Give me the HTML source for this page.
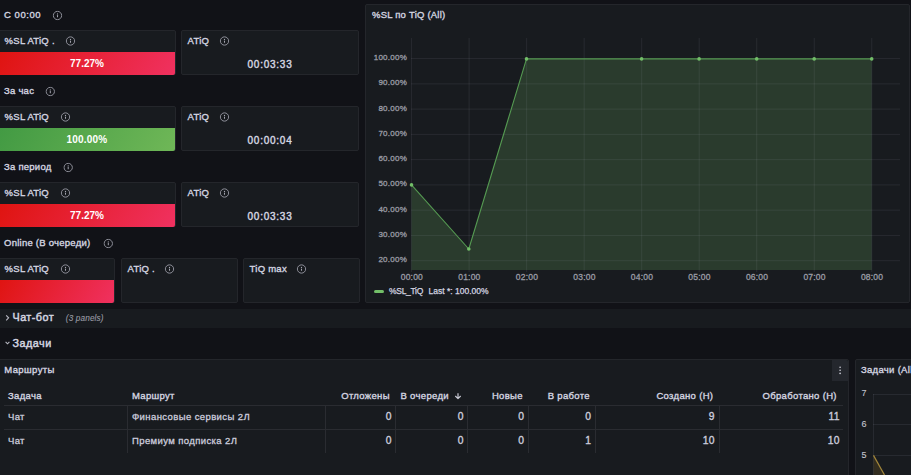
<!DOCTYPE html>
<html><head><meta charset="utf-8">
<style>
*{margin:0;padding:0;box-sizing:border-box}
html,body{width:911px;height:475px;overflow:hidden;background:#111217;font-family:"Liberation Sans", sans-serif;color:#d4d5e0}
.a{position:absolute}
.p{position:absolute;background:#181b1f;border:1px solid #24262b;border-radius:2px}
.tx{position:absolute;white-space:nowrap}
</style></head><body>
<div class="p" style="left:-2px;top:30px;width:178px;height:45px"></div>
<div class="a" style="left:-2px;top:52px;width:177px;height:23px;background:linear-gradient(120deg,#df1410,#f03160);border-radius:0 0 2px 2px"></div>
<div class="p" style="left:181px;top:30px;width:178px;height:45px"></div>
<div class="p" style="left:-2px;top:106px;width:178px;height:45px"></div>
<div class="a" style="left:-2px;top:128px;width:177px;height:23px;background:linear-gradient(120deg,#429a43,#6fb757);border-radius:0 0 2px 2px"></div>
<div class="p" style="left:181px;top:106px;width:178px;height:45px"></div>
<div class="p" style="left:-2px;top:182px;width:178px;height:45px"></div>
<div class="a" style="left:-2px;top:204px;width:177px;height:23px;background:linear-gradient(120deg,#df1410,#f03160);border-radius:0 0 2px 2px"></div>
<div class="p" style="left:181px;top:182px;width:178px;height:45px"></div>
<div class="p" style="left:-2px;top:258px;width:117px;height:45px"></div>
<div class="a" style="left:-2px;top:280px;width:116px;height:23px;background:linear-gradient(120deg,#df1410,#f03160);border-radius:0 0 2px 2px"></div>
<div class="p" style="left:121px;top:258px;width:117px;height:45px"></div>
<div class="p" style="left:243px;top:258px;width:117px;height:45px"></div>
<div class="p" style="left:365px;top:4px;width:545px;height:299px"></div>
<div class="a" style="left:-2px;top:309px;width:913px;height:19px;background:#181b1f;"></div>
<div class="p" style="left:-2px;top:359px;width:851px;height:130px"></div>
<div class="a" style="left:832px;top:360px;width:16px;height:21px;background:#24272d;border-radius:0 2px 0 0"></div>
<div class="a" style="left:4px;top:405px;width:839px;height:1px;background:#2a2c31;"></div>
<div class="a" style="left:4px;top:429px;width:839px;height:1px;background:#2a2c31;"></div>
<div class="a" style="left:127px;top:406px;width:1px;height:47px;background:#2a2c31;"></div>
<div class="a" style="left:325px;top:406px;width:1px;height:47px;background:#2a2c31;"></div>
<div class="a" style="left:395px;top:406px;width:1px;height:47px;background:#2a2c31;"></div>
<div class="a" style="left:467px;top:406px;width:1px;height:47px;background:#2a2c31;"></div>
<div class="a" style="left:528px;top:406px;width:1px;height:47px;background:#2a2c31;"></div>
<div class="a" style="left:595px;top:406px;width:1px;height:47px;background:#2a2c31;"></div>
<div class="a" style="left:719px;top:406px;width:1px;height:47px;background:#2a2c31;"></div>
<div class="p" style="left:855px;top:359px;width:70px;height:130px"></div>
<svg class="a" style="left:0;top:0" width="911" height="475">
<defs><symbol id="info" viewBox="0 0 10 10"><circle cx="5" cy="5" r="4.15" fill="none" stroke="#94959f" stroke-width="0.95"/><circle cx="5" cy="3.4" r="0.62" fill="#a4a5af"/><rect x="4.5" y="4.6" width="1" height="2.2" rx="0.3" fill="#a4a5af"/></symbol></defs>
<path d="M411.5,270 L411.5,184.9 468.8,249.0 526.5,58.9 871.7,58.9 L871.7,270 Z" fill="rgba(115,191,105,0.2)"/>
<g stroke="rgba(204,204,220,0.09)" stroke-width="1"><line x1="411.6" y1="38" x2="411.6" y2="272"/><line x1="469.12" y1="38" x2="469.12" y2="272"/><line x1="526.64" y1="38" x2="526.64" y2="272"/><line x1="584.16" y1="38" x2="584.16" y2="272"/><line x1="641.68" y1="38" x2="641.68" y2="272"/><line x1="699.2" y1="38" x2="699.2" y2="272"/><line x1="756.72" y1="38" x2="756.72" y2="272"/><line x1="814.24" y1="38" x2="814.24" y2="272"/><line x1="871.76" y1="38" x2="871.76" y2="272"/><line x1="411" y1="58.6" x2="900" y2="58.6"/><line x1="411" y1="83.86" x2="900" y2="83.86"/><line x1="411" y1="109.12" x2="900" y2="109.12"/><line x1="411" y1="134.38" x2="900" y2="134.38"/><line x1="411" y1="159.64" x2="900" y2="159.64"/><line x1="411" y1="184.9" x2="900" y2="184.9"/><line x1="411" y1="210.16" x2="900" y2="210.16"/><line x1="411" y1="235.42" x2="900" y2="235.42"/><line x1="411" y1="260.68" x2="900" y2="260.68"/></g>
<polyline points="411.5,184.9 468.8,249.0 526.5,58.9 871.7,58.9" fill="none" stroke="#559a52" stroke-width="1.1" stroke-linejoin="round"/>
<g fill="#73bf69"><circle cx="411.5" cy="184.9" r="1.8"/><circle cx="468.8" cy="249.0" r="1.8"/><circle cx="526.5" cy="58.9" r="1.8"/><circle cx="641.6" cy="58.9" r="1.8"/><circle cx="699.1" cy="58.9" r="1.8"/><circle cx="756.7" cy="58.9" r="1.8"/><circle cx="814.2" cy="58.9" r="1.8"/><circle cx="871.7" cy="58.9" r="1.8"/></g>
<line x1="375.5" y1="291.5" x2="382.5" y2="291.5" stroke="#73bf69" stroke-width="3" stroke-linecap="round"/>
<g stroke="rgba(204,204,220,0.09)" stroke-width="1">
<line x1="873.5" y1="394" x2="873.5" y2="475"/>
<line x1="873" y1="394.5" x2="911" y2="394.5"/>
<line x1="873" y1="424.5" x2="911" y2="424.5"/>
<line x1="873" y1="455.5" x2="911" y2="455.5"/>
</g>
<path d="M873.5,455.4 L884.5,475 L873.5,475 Z" fill="rgba(230,170,40,0.13)"/>
<line x1="873.5" y1="455.4" x2="884.5" y2="475" stroke="#a3873a" stroke-width="1.2"/>
</svg>
<div class="tx" style="top:10px;font-size:9.5px;line-height:9.5px;color:#d4d5e0;letter-spacing:0.55px;-webkit-text-stroke:0.35px #d4d5e0;left:4px;">С 00:00</div>
<svg class="a" style="left:52px;top:10px" width="11" height="11"><use href="#info" x="0.5" y="0.5" width="10" height="10"/></svg>
<div class="tx" style="top:86px;font-size:9.5px;line-height:9.5px;color:#d4d5e0;letter-spacing:0.25px;-webkit-text-stroke:0.35px #d4d5e0;left:4px;">За час</div>
<svg class="a" style="left:45px;top:86px" width="11" height="11"><use href="#info" x="0.3" y="0.5" width="10" height="10"/></svg>
<div class="tx" style="top:162px;font-size:9.5px;line-height:9.5px;color:#d4d5e0;letter-spacing:0.25px;-webkit-text-stroke:0.35px #d4d5e0;left:4px;">За период</div>
<svg class="a" style="left:63px;top:162px" width="11" height="11"><use href="#info" x="0.2" y="0.5" width="10" height="10"/></svg>
<div class="tx" style="top:238px;font-size:9.5px;line-height:9.5px;color:#d4d5e0;letter-spacing:0.25px;-webkit-text-stroke:0.35px #d4d5e0;left:4px;">Online (В очереди)</div>
<svg class="a" style="left:103px;top:238px" width="11" height="11"><use href="#info" x="0.3" y="0.5" width="10" height="10"/></svg>
<div class="tx" style="top:36px;font-size:9.5px;line-height:9.5px;color:#d4d5e0;letter-spacing:0.25px;-webkit-text-stroke:0.35px #d4d5e0;left:4.6px;">%SL ATiQ .</div>
<svg class="a" style="left:65px;top:36px" width="11" height="11"><use href="#info" x="0.5" y="0" width="10" height="10"/></svg>
<div class="tx" style="top:59px;font-size:10px;line-height:10px;color:#fff;font-weight:bold;left:-63.0px;width:300px;text-align:center;">77.27%</div>
<div class="tx" style="top:36px;font-size:9.5px;line-height:9.5px;color:#d4d5e0;letter-spacing:0.25px;-webkit-text-stroke:0.35px #d4d5e0;left:187.6px;">ATiQ</div>
<svg class="a" style="left:219px;top:36px" width="11" height="11"><use href="#info" x="0.5" y="0" width="10" height="10"/></svg>
<div class="tx" style="top:60px;font-size:10px;line-height:10px;color:#d4d5e0;letter-spacing:0.75px;-webkit-text-stroke:0.4px #d4d5e0;left:120.0px;width:300px;text-align:center;">00:03:33</div>
<div class="tx" style="top:112px;font-size:9.5px;line-height:9.5px;color:#d4d5e0;letter-spacing:0.25px;-webkit-text-stroke:0.35px #d4d5e0;left:4.6px;">%SL ATiQ</div>
<svg class="a" style="left:60px;top:112px" width="11" height="11"><use href="#info" x="0.5" y="0" width="10" height="10"/></svg>
<div class="tx" style="top:135px;font-size:10px;line-height:10px;color:#fff;font-weight:bold;letter-spacing:0.2px;left:-63.0px;width:300px;text-align:center;">100.00%</div>
<div class="tx" style="top:112px;font-size:9.5px;line-height:9.5px;color:#d4d5e0;letter-spacing:0.25px;-webkit-text-stroke:0.35px #d4d5e0;left:187.6px;">ATiQ</div>
<svg class="a" style="left:219px;top:112px" width="11" height="11"><use href="#info" x="0.5" y="0" width="10" height="10"/></svg>
<div class="tx" style="top:136px;font-size:10px;line-height:10px;color:#d4d5e0;letter-spacing:0.75px;-webkit-text-stroke:0.4px #d4d5e0;left:120.0px;width:300px;text-align:center;">00:00:04</div>
<div class="tx" style="top:188px;font-size:9.5px;line-height:9.5px;color:#d4d5e0;letter-spacing:0.25px;-webkit-text-stroke:0.35px #d4d5e0;left:4.6px;">%SL ATiQ</div>
<svg class="a" style="left:60px;top:188px" width="11" height="11"><use href="#info" x="0.5" y="0" width="10" height="10"/></svg>
<div class="tx" style="top:211px;font-size:10px;line-height:10px;color:#fff;font-weight:bold;left:-63.0px;width:300px;text-align:center;">77.27%</div>
<div class="tx" style="top:188px;font-size:9.5px;line-height:9.5px;color:#d4d5e0;letter-spacing:0.25px;-webkit-text-stroke:0.35px #d4d5e0;left:187.6px;">ATiQ</div>
<svg class="a" style="left:219px;top:188px" width="11" height="11"><use href="#info" x="0.5" y="0" width="10" height="10"/></svg>
<div class="tx" style="top:212px;font-size:10px;line-height:10px;color:#d4d5e0;letter-spacing:0.75px;-webkit-text-stroke:0.4px #d4d5e0;left:120.0px;width:300px;text-align:center;">00:03:33</div>
<div class="tx" style="top:264px;font-size:9.5px;line-height:9.5px;color:#d4d5e0;letter-spacing:0.25px;-webkit-text-stroke:0.35px #d4d5e0;left:4.6px;">%SL ATiQ</div>
<svg class="a" style="left:60px;top:264px" width="11" height="11"><use href="#info" x="0.5" y="0" width="10" height="10"/></svg>
<div class="tx" style="top:264px;font-size:9.5px;line-height:9.5px;color:#d4d5e0;letter-spacing:0.25px;-webkit-text-stroke:0.35px #d4d5e0;left:127.6px;">ATiQ .</div>
<svg class="a" style="left:164px;top:264px" width="11" height="11"><use href="#info" x="0.5" y="0" width="10" height="10"/></svg>
<div class="tx" style="top:264px;font-size:9.5px;line-height:9.5px;color:#d4d5e0;letter-spacing:0.25px;-webkit-text-stroke:0.35px #d4d5e0;left:249.6px;">TiQ max</div>
<svg class="a" style="left:296px;top:264px" width="11" height="11"><use href="#info" x="0.5" y="0" width="10" height="10"/></svg>
<div class="tx" style="top:10px;font-size:9.5px;line-height:9.5px;color:#d4d5e0;letter-spacing:0.22px;-webkit-text-stroke:0.35px #d4d5e0;left:372px;">%SL по TiQ (All)</div>
<div class="tx" style="top:54px;font-size:8px;line-height:8px;color:#9a9ba5;letter-spacing:0.25px;-webkit-text-stroke:0.3px #9a9ba5;right:503.95px;text-align:right;">100.00%</div>
<div class="tx" style="top:79px;font-size:8px;line-height:8px;color:#9a9ba5;letter-spacing:0.25px;-webkit-text-stroke:0.3px #9a9ba5;right:503.95px;text-align:right;">90.00%</div>
<div class="tx" style="top:105px;font-size:8px;line-height:8px;color:#9a9ba5;letter-spacing:0.25px;-webkit-text-stroke:0.3px #9a9ba5;right:503.95px;text-align:right;">80.00%</div>
<div class="tx" style="top:130px;font-size:8px;line-height:8px;color:#9a9ba5;letter-spacing:0.25px;-webkit-text-stroke:0.3px #9a9ba5;right:503.95px;text-align:right;">70.00%</div>
<div class="tx" style="top:155px;font-size:8px;line-height:8px;color:#9a9ba5;letter-spacing:0.25px;-webkit-text-stroke:0.3px #9a9ba5;right:503.95px;text-align:right;">60.00%</div>
<div class="tx" style="top:180px;font-size:8px;line-height:8px;color:#9a9ba5;letter-spacing:0.25px;-webkit-text-stroke:0.3px #9a9ba5;right:503.95px;text-align:right;">50.00%</div>
<div class="tx" style="top:206px;font-size:8px;line-height:8px;color:#9a9ba5;letter-spacing:0.25px;-webkit-text-stroke:0.3px #9a9ba5;right:503.95px;text-align:right;">40.00%</div>
<div class="tx" style="top:231px;font-size:8px;line-height:8px;color:#9a9ba5;letter-spacing:0.25px;-webkit-text-stroke:0.3px #9a9ba5;right:503.95px;text-align:right;">30.00%</div>
<div class="tx" style="top:256px;font-size:8px;line-height:8px;color:#9a9ba5;letter-spacing:0.25px;-webkit-text-stroke:0.3px #9a9ba5;right:503.95px;text-align:right;">20.00%</div>
<div class="tx" style="top:273px;font-size:8.5px;line-height:8.5px;color:#9a9ba5;letter-spacing:0.2px;-webkit-text-stroke:0.3px #9a9ba5;left:261.90000000000003px;width:300px;text-align:center;">00:00</div>
<div class="tx" style="top:273px;font-size:8.5px;line-height:8.5px;color:#9a9ba5;letter-spacing:0.2px;-webkit-text-stroke:0.3px #9a9ba5;left:319.42px;width:300px;text-align:center;">01:00</div>
<div class="tx" style="top:273px;font-size:8.5px;line-height:8.5px;color:#9a9ba5;letter-spacing:0.2px;-webkit-text-stroke:0.3px #9a9ba5;left:376.93999999999994px;width:300px;text-align:center;">02:00</div>
<div class="tx" style="top:273px;font-size:8.5px;line-height:8.5px;color:#9a9ba5;letter-spacing:0.2px;-webkit-text-stroke:0.3px #9a9ba5;left:434.4599999999999px;width:300px;text-align:center;">03:00</div>
<div class="tx" style="top:273px;font-size:8.5px;line-height:8.5px;color:#9a9ba5;letter-spacing:0.2px;-webkit-text-stroke:0.3px #9a9ba5;left:491.9799999999999px;width:300px;text-align:center;">04:00</div>
<div class="tx" style="top:273px;font-size:8.5px;line-height:8.5px;color:#9a9ba5;letter-spacing:0.2px;-webkit-text-stroke:0.3px #9a9ba5;left:549.5px;width:300px;text-align:center;">05:00</div>
<div class="tx" style="top:273px;font-size:8.5px;line-height:8.5px;color:#9a9ba5;letter-spacing:0.2px;-webkit-text-stroke:0.3px #9a9ba5;left:607.02px;width:300px;text-align:center;">06:00</div>
<div class="tx" style="top:273px;font-size:8.5px;line-height:8.5px;color:#9a9ba5;letter-spacing:0.2px;-webkit-text-stroke:0.3px #9a9ba5;left:664.54px;width:300px;text-align:center;">07:00</div>
<div class="tx" style="top:273px;font-size:8.5px;line-height:8.5px;color:#9a9ba5;letter-spacing:0.2px;-webkit-text-stroke:0.3px #9a9ba5;left:722.06px;width:300px;text-align:center;">08:00</div>
<div class="tx" style="top:287px;font-size:8.5px;line-height:8.5px;color:#d4d5e0;letter-spacing:-0.3px;-webkit-text-stroke:0.25px #d4d5e0;left:389px;">%SL_TiQ</div>
<div class="tx" style="top:287px;font-size:8.5px;line-height:8.5px;color:#d4d5e0;-webkit-text-stroke:0.25px #d4d5e0;left:428.5px;">Last *: 100.00%</div>
<svg class="a" style="left:0px;top:310px" width="12" height="16"><path d="M6.2,5.3 L8.6,7.8 L6.2,10.3" fill="none" stroke="#b8b9c3" stroke-width="1.1"/></svg>
<div class="tx" style="top:312px;font-size:10.8px;line-height:10.8px;color:#d4d5e0;letter-spacing:0.45px;-webkit-text-stroke:0.45px #d4d5e0;left:12.5px;">Чат-бот</div>
<div class="tx" style="top:315px;font-size:8.2px;line-height:8.2px;color:#9a9ba5;letter-spacing:0.15px;font-style:italic;-webkit-text-stroke:0.1px #9a9ba5;left:65.8px;">(3 panels)</div>
<svg class="a" style="left:0px;top:336px" width="12" height="12"><path d="M5.6,5.8 L7.5,7.8 L9.4,5.8" fill="none" stroke="#b8b9c3" stroke-width="1.1"/></svg>
<div class="tx" style="top:338px;font-size:10.8px;line-height:10.8px;color:#d4d5e0;letter-spacing:0.5px;-webkit-text-stroke:0.45px #d4d5e0;left:12.5px;">Задачи</div>
<div class="tx" style="top:365px;font-size:9.5px;line-height:9.5px;color:#d4d5e0;letter-spacing:0.42px;-webkit-text-stroke:0.35px #d4d5e0;left:4.2px;">Маршруты</div>
<svg class="a" style="left:838px;top:365px" width="4" height="10"><circle cx="2.1" cy="2.2" r="0.8" fill="#d8d9e3"/><circle cx="2.1" cy="5.3" r="0.8" fill="#d8d9e3"/><circle cx="2.1" cy="8.4" r="0.8" fill="#d8d9e3"/></svg>
<div class="tx" style="top:391px;font-size:9.5px;line-height:9.5px;color:#d4d5e0;letter-spacing:0.32px;-webkit-text-stroke:0.35px #d4d5e0;left:8px;">Задача</div>
<div class="tx" style="top:391px;font-size:9.5px;line-height:9.5px;color:#d4d5e0;letter-spacing:0.32px;-webkit-text-stroke:0.35px #d4d5e0;left:132px;">Маршрут</div>
<div class="tx" style="top:391px;font-size:9.5px;line-height:9.5px;color:#d4d5e0;letter-spacing:0.32px;-webkit-text-stroke:0.35px #d4d5e0;right:521.18px;text-align:right;">Отложены</div>
<div class="tx" style="top:391px;font-size:9.5px;line-height:9.5px;color:#d4d5e0;letter-spacing:0.32px;-webkit-text-stroke:0.35px #d4d5e0;left:400.5px;">В очереди</div>
<svg class="a" style="left:454px;top:391px" width="8" height="9"><path d="M4,2.3 L4,7.6 M1.3,5 L4,7.6 L6.7,5" fill="none" stroke="#c8c9d3" stroke-width="1.2" stroke-linejoin="round"/></svg>
<div class="tx" style="top:391px;font-size:9.5px;line-height:9.5px;color:#d4d5e0;letter-spacing:0.32px;-webkit-text-stroke:0.35px #d4d5e0;right:388.18px;text-align:right;">Новые</div>
<div class="tx" style="top:391px;font-size:9.5px;line-height:9.5px;color:#d4d5e0;letter-spacing:0.32px;-webkit-text-stroke:0.35px #d4d5e0;right:321.18px;text-align:right;">В работе</div>
<div class="tx" style="top:391px;font-size:9.5px;line-height:9.5px;color:#d4d5e0;letter-spacing:0.32px;-webkit-text-stroke:0.35px #d4d5e0;right:197.68px;text-align:right;">Создано (Н)</div>
<div class="tx" style="top:391px;font-size:9.5px;line-height:9.5px;color:#d4d5e0;letter-spacing:0.32px;-webkit-text-stroke:0.35px #d4d5e0;right:74.18px;text-align:right;">Обработано (Н)</div>
<div class="tx" style="top:412px;font-size:9.5px;line-height:9.5px;color:#ccccdc;letter-spacing:0.35px;-webkit-text-stroke:0.3px #ccccdc;left:8px;">Чат</div>
<div class="tx" style="top:412px;font-size:9.5px;line-height:9.5px;color:#ccccdc;letter-spacing:0.4px;-webkit-text-stroke:0.3px #ccccdc;left:132px;">Финансовые сервисы 2Л</div>
<div class="tx" style="top:412px;font-size:10.3px;line-height:10.3px;color:#ccccdc;letter-spacing:0.3px;-webkit-text-stroke:0.35px #ccccdc;right:519.2px;text-align:right;">0</div>
<div class="tx" style="top:412px;font-size:10.3px;line-height:10.3px;color:#ccccdc;letter-spacing:0.3px;-webkit-text-stroke:0.35px #ccccdc;right:447.2px;text-align:right;">0</div>
<div class="tx" style="top:412px;font-size:10.3px;line-height:10.3px;color:#ccccdc;letter-spacing:0.3px;-webkit-text-stroke:0.35px #ccccdc;right:386.7px;text-align:right;">0</div>
<div class="tx" style="top:412px;font-size:10.3px;line-height:10.3px;color:#ccccdc;letter-spacing:0.3px;-webkit-text-stroke:0.35px #ccccdc;right:319.7px;text-align:right;">0</div>
<div class="tx" style="top:412px;font-size:10.3px;line-height:10.3px;color:#ccccdc;letter-spacing:0.3px;-webkit-text-stroke:0.35px #ccccdc;right:196.2px;text-align:right;">9</div>
<div class="tx" style="top:412px;font-size:10.3px;line-height:10.3px;color:#ccccdc;letter-spacing:0.3px;-webkit-text-stroke:0.35px #ccccdc;right:71.2px;text-align:right;">11</div>
<div class="tx" style="top:436px;font-size:9.5px;line-height:9.5px;color:#ccccdc;letter-spacing:0.35px;-webkit-text-stroke:0.3px #ccccdc;left:8px;">Чат</div>
<div class="tx" style="top:436px;font-size:9.5px;line-height:9.5px;color:#ccccdc;letter-spacing:0.4px;-webkit-text-stroke:0.3px #ccccdc;left:132px;">Премиум подписка 2Л</div>
<div class="tx" style="top:436px;font-size:10.3px;line-height:10.3px;color:#ccccdc;letter-spacing:0.3px;-webkit-text-stroke:0.35px #ccccdc;right:519.2px;text-align:right;">0</div>
<div class="tx" style="top:436px;font-size:10.3px;line-height:10.3px;color:#ccccdc;letter-spacing:0.3px;-webkit-text-stroke:0.35px #ccccdc;right:447.2px;text-align:right;">0</div>
<div class="tx" style="top:436px;font-size:10.3px;line-height:10.3px;color:#ccccdc;letter-spacing:0.3px;-webkit-text-stroke:0.35px #ccccdc;right:386.7px;text-align:right;">0</div>
<div class="tx" style="top:436px;font-size:10.3px;line-height:10.3px;color:#ccccdc;letter-spacing:0.3px;-webkit-text-stroke:0.35px #ccccdc;right:319.7px;text-align:right;">1</div>
<div class="tx" style="top:436px;font-size:10.3px;line-height:10.3px;color:#ccccdc;letter-spacing:0.3px;-webkit-text-stroke:0.35px #ccccdc;right:196.2px;text-align:right;">10</div>
<div class="tx" style="top:436px;font-size:10.3px;line-height:10.3px;color:#ccccdc;letter-spacing:0.3px;-webkit-text-stroke:0.35px #ccccdc;right:71.2px;text-align:right;">10</div>
<div class="tx" style="top:365px;font-size:9.5px;line-height:9.5px;color:#d4d5e0;letter-spacing:0.3px;-webkit-text-stroke:0.35px #d4d5e0;left:861px;">Задачи (All)</div>
<div class="tx" style="top:389px;font-size:9px;line-height:9px;color:#c4c5cf;-webkit-text-stroke:0.1px #c4c5cf;left:861.5px;">7</div>
<div class="tx" style="top:420px;font-size:9px;line-height:9px;color:#c4c5cf;-webkit-text-stroke:0.1px #c4c5cf;left:861.5px;">6</div>
<div class="tx" style="top:451px;font-size:9px;line-height:9px;color:#c4c5cf;-webkit-text-stroke:0.1px #c4c5cf;left:861.5px;">5</div>
</body></html>
